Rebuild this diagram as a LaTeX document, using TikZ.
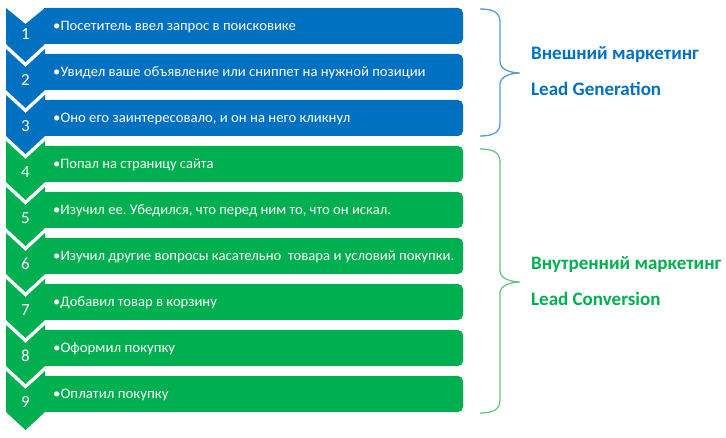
\documentclass[tikz,border=0pt]{standalone}
\usepackage{graphicx}
\usepackage{fontspec}
\setmainfont{Carlito}
\frenchspacing
\definecolor{mblue}{RGB}{0,112,192}
\definecolor{mgreen}{RGB}{0,176,80}
\definecolor{bluebrace}{RGB}{91,155,213}
\definecolor{greenbrace}{RGB}{100,200,130}
\newcommand{\fitw}[2]{\resizebox{#1pt}{\height}{#2}}
\begin{document}
\begin{tikzpicture}[x=1pt,y=-1pt,
  rowbox/.style={rectangle, rounded corners=5pt, minimum width=419pt, minimum height=36pt, inner sep=0pt},
  rowtext/.style={anchor=base west, inner sep=0pt, text=white, font=\fontsize{14.5}{16}\selectfont},
  numtext/.style={anchor=base, inner sep=0pt, text=white, font=\fontsize{17}{20}\selectfont},
  grouplabel/.style={anchor=base west, inner sep=0pt, font=\bfseries\fontsize{19}{22}\selectfont},
  bracepath/.style={line width=1.3pt}
]
\useasboundingbox (0,0) rectangle (726,438);
\foreach \i in {1,...,9} {
  \pgfmathsetmacro{\R}{8+46*(\i-1)}
  \pgfmathsetmacro{\T}{\i==1 ? \R : \R-5}
  \pgfmathsetmacro{\N}{\i==1 ? \R+16 : \R+13}
  \ifnum\i<4 \def\c{mblue}\else\def\c{mgreen}\fi
  \node[rowbox, fill=\c] (r\i) at (253.5,\R+18) {};
  \fill[\c] (44,\R) rectangle (54,\R+36);
  \fill[\c] (6,\T) -- (25.5,\N) -- (45,\T) -- (45,\R+36) -- (25.5,\R+54) -- (6,\R+36) -- cycle;
  \node[numtext] (n\i) at (25.5,\R+31.5) {\i};
}
\node[rowtext] (t1) at (53,30.5) {\fitw{242.7}{•Посетитель ввел запрос в поисковике}};
\node[rowtext] (t2) at (53,76.5) {\fitw{372.3}{•Увидел ваше объявление или сниппет на нужной позиции}};
\node[rowtext] (t3) at (53,122.5) {\fitw{297}{•Оно его заинтересовало, и он на него кликнул}};
\node[rowtext] (t4) at (53,168.5) {\fitw{160.3}{•Попал на страницу сайта}};
\node[rowtext] (t5) at (53,214.5) {\fitw{337.7}{•Изучил ее. Убедился, что перед ним то, что он искал.}};
\node[rowtext] (t6) at (53,260.5) {\fitw{401}{•Изучил другие вопросы касательно~ товара и условий покупки.}};
\node[rowtext] (t7) at (53,306.5) {\fitw{163.7}{•Добавил товар в корзину}};
\node[rowtext] (t8) at (53,352.5) {\fitw{122}{•Оформил покупку}};
\node[rowtext] (t9) at (53,398.5) {\fitw{115.3}{•Оплатил покупку}};
% braces
\draw[bracepath, bluebrace] (480,9) .. controls (494,9) and (500,13) .. (500,22) -- (500,62)
  .. controls (500,69) and (510,73) .. (520,73) .. controls (510,73) and (500,77) .. (500,84)
  -- (500,123) .. controls (500,132) and (494,136) .. (480,136);
\draw[bracepath, greenbrace] (480,149) .. controls (494,149) and (500,153) .. (500,162) -- (500,271)
  .. controls (500,278) and (510,282) .. (520,282) .. controls (510,282) and (500,286) .. (500,293)
  -- (500,400) .. controls (500,409) and (494,413) .. (480,413);
\node[grouplabel, text=mblue] (g1) at (531,59.3) {Внешний маркетинг};
\node[grouplabel, text=mblue] (g2) at (531,95.6) {Lead Generation};
\node[grouplabel, text=mgreen] (g3) at (531,269.5) {Внутренний маркетинг};
\node[grouplabel, text=mgreen] (g4) at (531,305.6) {Lead Conversion};
\end{tikzpicture}
\end{document}
